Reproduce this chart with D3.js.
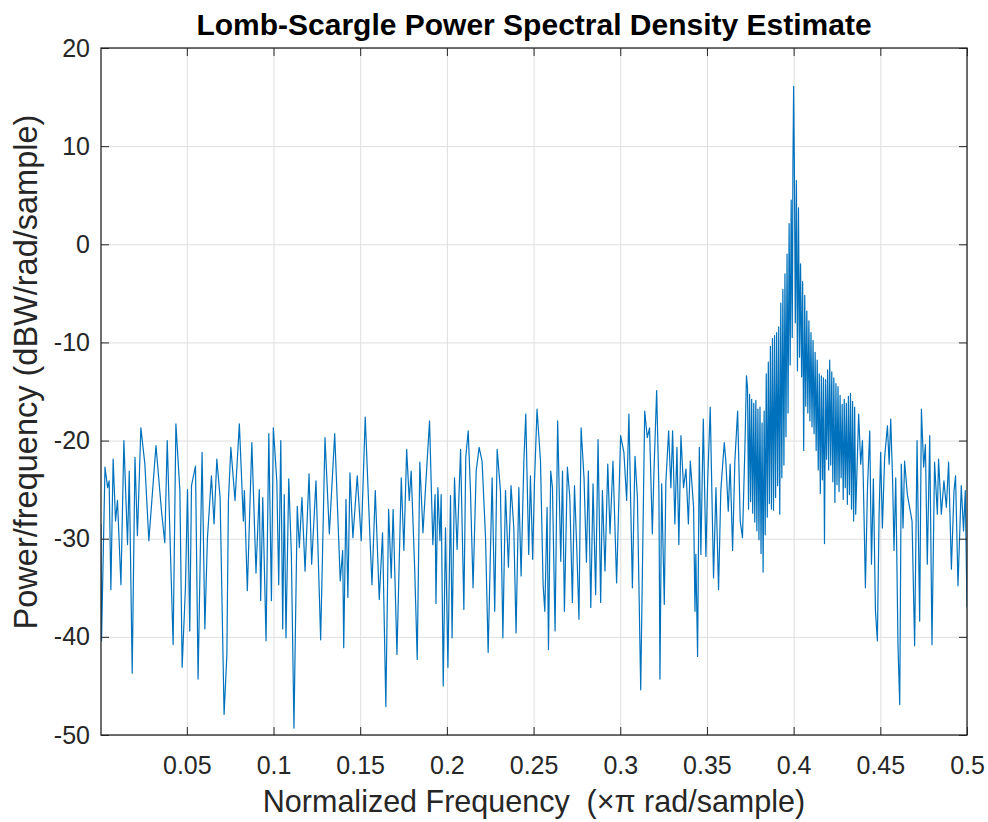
<!DOCTYPE html>
<html>
<head>
<meta charset="utf-8">
<script src="https://cdn.jsdelivr.net/npm/d3@7/dist/d3.min.js"></script>
<style>
  body { margin: 0; background: #fff; }
  text { font-family: "Liberation Sans", Arial, Helvetica, sans-serif; white-space: pre; }
</style>
</head>
<body>
<div id="chart"></div>
<script>
// [normalized frequency (x pi rad/sample), power/frequency dB]
const band1 = [[0.0005,-28.5],[0.0008,-40.4],[0.0028,-22.7],[0.0043,-24.8],[0.0052,-24.1],[0.0062,-35.2],[0.0075,-21.9],[0.0089,-28.2],[0.0100,-26.1],[0.0120,-34.7],[0.0137,-20.0],[0.0158,-30.6],[0.0168,-23.1],[0.0185,-43.7],[0.0201,-21.7],[0.0215,-29.7],[0.0235,-18.7],[0.0258,-22.4],[0.0281,-30.2],[0.0322,-20.5],[0.0354,-27.2],[0.0373,-30.4],[0.0387,-20.0],[0.0421,-40.8],[0.0437,-18.3],[0.0460,-25.1],[0.0473,-43.1],[0.0492,-35.0],[0.0504,-25.0],[0.0517,-39.4],[0.0527,-24.6],[0.0550,-22.6],[0.0565,-44.3],[0.0588,-21.2],[0.0604,-39.2],[0.0619,-29.9],[0.0642,-23.6]];
const band2 = [[0.0657,-28.5],[0.0673,-21.9],[0.0692,-25.8],[0.0715,-47.9],[0.0731,-41.8],[0.0740,-26.1],[0.0754,-20.7],[0.0778,-26.1],[0.0803,-18.3],[0.0826,-28.2],[0.0832,-25.1],[0.0849,-35.3],[0.0875,-20.2],[0.0899,-33.5],[0.0918,-25.0],[0.0926,-36.3],[0.0938,-25.8],[0.0957,-40.4],[0.0973,-19.3],[0.0988,-36.3],[0.0999,-18.7],[0.1019,-24.1],[0.1030,-34.7],[0.1042,-20.0],[0.1053,-39.2],[0.1062,-25.5],[0.1072,-40.1],[0.1088,-23.9],[0.1103,-31.6],[0.1118,-49.3],[0.1137,-26.7],[0.1149,-30.9],[0.1164,-25.8],[0.1182,-33.3],[0.1205,-23.4],[0.1220,-32.6],[0.1245,-24.1],[0.1272,-40.3]];
const band3 = [[0.1297,-19.7],[0.1322,-29.5],[0.1353,-19.3],[0.1385,-34.3],[0.1399,-31.2],[0.1405,-41.1],[0.1418,-26.0],[0.1429,-36.0],[0.1441,-23.3],[0.1458,-29.9],[0.1483,-23.6],[0.1506,-30.2],[0.1529,-17.6],[0.1558,-30.6],[0.1568,-34.7],[0.1587,-25.1],[0.1610,-36.2],[0.1629,-29.4],[0.1648,-47.1],[0.1664,-27.0],[0.1679,-34.0],[0.1690,-27.0],[0.1712,-41.8],[0.1737,-23.8],[0.1752,-31.2],[0.1768,-20.9],[0.1783,-26.1],[0.1794,-23.1],[0.1814,-32.9],[0.1829,-42.3],[0.1844,-22.2],[0.1862,-29.4],[0.1881,-23.6],[0.1900,-18.0],[0.1919,-30.6],[0.1932,-25.5]];
const band4 = [[0.1937,-36.6],[0.1948,-24.8],[0.1960,-30.2],[0.1967,-25.5],[0.1979,-45.0],[0.1992,-28.9],[0.2006,-43.1],[0.2021,-25.6],[0.2030,-40.1],[0.2044,-23.8],[0.2059,-31.1],[0.2079,-20.9],[0.2098,-37.2],[0.2109,-21.7],[0.2123,-19.0],[0.2136,-25.1],[0.2151,-35.0],[0.2169,-23.1],[0.2186,-20.7],[0.2203,-22.1],[0.2223,-29.9],[0.2238,-41.6],[0.2261,-23.8],[0.2276,-37.4],[0.2290,-20.9],[0.2309,-25.1],[0.2323,-40.1],[0.2338,-25.1],[0.2355,-32.9],[0.2370,-24.6],[0.2386,-28.9],[0.2399,-39.6],[0.2415,-24.8],[0.2428,-33.8],[0.2444,-22.1],[0.2455,-17.3],[0.2472,-31.6],[0.2482,-23.6],[0.2495,-32.1],[0.2505,-24.4],[0.2520,-16.8],[0.2540,-22.1],[0.2555,-34.7],[0.2565,-37.4],[0.2578,-26.8]];
const band5 = [[0.2586,-41.3],[0.2599,-23.1],[0.2609,-24.8],[0.2624,-39.4],[0.2639,-18.0],[0.2657,-32.3],[0.2667,-23.1],[0.2678,-37.4],[0.2695,-22.7],[0.2709,-25.8],[0.2724,-36.5],[0.2736,-24.6],[0.2749,-30.9],[0.2762,-38.2],[0.2774,-18.7],[0.2791,-23.8],[0.2805,-32.4],[0.2816,-23.1],[0.2830,-37.0],[0.2843,-24.4],[0.2858,-35.7],[0.2872,-19.9],[0.2887,-36.5],[0.2897,-25.1],[0.2912,-33.3],[0.2928,-22.4],[0.2941,-29.5],[0.2958,-22.1],[0.2979,-34.5],[0.3002,-19.5],[0.3021,-21.2],[0.3037,-26.1],[0.3050,-17.3],[0.3070,-35.0],[0.3085,-21.6],[0.3099,-25.8],[0.3118,-45.4],[0.3141,-17.0],[0.3156,-19.7],[0.3169,-18.7],[0.3185,-29.5],[0.3194,-23.4],[0.3210,-14.9],[0.3223,-25.1],[0.3229,-44.3]];
const band6 = [[0.3239,-24.4],[0.3254,-36.7],[0.3263,-24.3],[0.3279,-19.0],[0.3292,-24.8],[0.3302,-19.0],[0.3315,-28.5],[0.3327,-20.7],[0.3338,-30.6],[0.3350,-19.5],[0.3365,-24.8],[0.3379,-22.9],[0.3393,-28.5],[0.3404,-22.1],[0.3423,-26.8],[0.3431,-37.4],[0.3436,-31.6],[0.3446,-42.0],[0.3456,-20.7],[0.3465,-31.6],[0.3479,-17.8],[0.3494,-31.8],[0.3504,-24.3],[0.3519,-16.6],[0.3538,-34.0],[0.3552,-24.8],[0.3567,-35.2],[0.3580,-25.1],[0.3600,-20.2],[0.3609,-22.1],[0.3623,-27.2],[0.3634,-22.4],[0.3648,-31.2],[0.3661,-22.1],[0.3677,-17.0],[0.3692,-28.2],[0.3705,-29.9],[0.3719,-20.7],[0.3728,-13.4]];
const peakBand = [[0.3734,-14.6],[0.3740,-27.0],[0.3746,-15.3],[0.3752,-26.2],[0.3758,-15.8],[0.3764,-27.4],[0.3770,-16.2],[0.3776,-28.3],[0.3782,-15.9],[0.3788,-29.2],[0.3794,-16.8],[0.3800,-30.1],[0.3806,-16.6],[0.3812,-31.5],[0.3818,-18.2],[0.3824,-33.4],[0.3830,-17.0],[0.3836,-29.6],[0.3842,-13.2],[0.3848,-27.8],[0.3854,-12.0],[0.3860,-26.4],[0.3866,-10.4],[0.3872,-27.0],[0.3878,-9.6],[0.3884,-27.1],[0.3890,-9.3],[0.3896,-25.8],[0.3902,-9.0],[0.3908,-24.6],[0.3914,-8.4],[0.3920,-27.5],[0.3926,-6.0],[0.3932,-23.8],[0.3938,-4.6],[0.3944,-22.5],[0.3950,-3.0],[0.3956,-19.6],[0.3962,-1.0],[0.3968,-17.2],[0.3974,2.1],[0.3980,-12.3],[0.3986,4.5],[0.3992,-9.5],[0.3996,8.0],[0.4000,16.1],[0.4004,8.5],[0.4010,-8.0],[0.4016,6.5],[0.4022,-12.9],[0.4028,3.7],[0.4034,-11.5],[0.4040,-2.0],[0.4046,-13.5],[0.4052,-3.8],[0.4058,-21.0],[0.4064,-5.2],[0.4070,-16.5],[0.4076,-6.8],[0.4082,-17.2],[0.4088,-7.8],[0.4094,-18.0],[0.4100,-9.0],[0.4106,-18.6],[0.4112,-9.8],[0.4118,-19.3],[0.4124,-11.0],[0.4130,-21.0],[0.4136,-11.8],[0.4142,-23.0],[0.4148,-13.2],[0.4154,-25.4],[0.4160,-13.4],[0.4166,-24.0],[0.4172,-13.6],[0.4178,-30.5],[0.4184,-13.8],[0.4190,-21.9],[0.4196,-12.8],[0.4202,-23.0],[0.4208,-11.8],[0.4214,-22.5],[0.4220,-13.0],[0.4226,-24.2],[0.4232,-13.6],[0.4238,-26.3],[0.4244,-14.2],[0.4250,-24.5],[0.4256,-14.5],[0.4262,-25.2],[0.4268,-15.4],[0.4274,-23.8],[0.4280,-16.3],[0.4286,-26.0],[0.4292,-15.8],[0.4298,-24.8],[0.4304,-16.2],[0.4310,-26.5],[0.4316,-15.5],[0.4322,-25.5],[0.4328,-15.2],[0.4334,-27.0],[0.4340,-16.0],[0.4346,-28.2],[0.4352,-16.6],[0.4358,-27.5]];
const band7 = [[0.4375,-17.3],[0.4387,-22.4],[0.4397,-20.0],[0.4407,-28.5],[0.4414,-35.0],[0.4426,-24.8],[0.4439,-19.0],[0.4449,-32.6],[0.4460,-23.9],[0.4472,-37.4],[0.4483,-40.4],[0.4493,-27.5],[0.4502,-21.2],[0.4512,-28.9],[0.4525,-21.7],[0.4541,-18.5],[0.4551,-22.4],[0.4560,-17.8],[0.4571,-24.1],[0.4579,-31.2],[0.4589,-23.8],[0.4602,-40.9],[0.4612,-46.9],[0.4621,-22.4],[0.4631,-28.9],[0.4640,-22.1],[0.4656,-25.5],[0.4669,-26.8],[0.4683,-28.2],[0.4698,-40.9],[0.4712,-20.0],[0.4727,-38.4],[0.4737,-16.8],[0.4750,-22.7],[0.4760,-20.4],[0.4771,-32.6],[0.4785,-19.5],[0.4798,-40.8],[0.4813,-22.2],[0.4829,-27.5],[0.4836,-21.9],[0.4852,-27.5],[0.4867,-24.1],[0.4881,-26.8],[0.4894,-22.2],[0.4910,-33.1],[0.4925,-25.1],[0.4934,-23.6],[0.4948,-34.8],[0.4967,-24.6],[0.4980,-29.2],[0.4990,-25.1],[0.5000,-37.0]];

const xTicks = [0.05, 0.1, 0.15, 0.2, 0.25, 0.3, 0.35, 0.4, 0.45, 0.5];
const xTickLabels = ["0.05", "0.1", "0.15", "0.2", "0.25", "0.3", "0.35", "0.4", "0.45", "0.5"];
const yTicks = [-50, -40, -30, -20, -10, 0, 10, 20];
const yTickLabels = ["-50", "-40", "-30", "-20", "-10", "0", "10", "20"];

const psd = [].concat(band1, band2, band3, band4, band5, band6, peakBand, band7);

// figure layout
const width = 988, height = 822;
const margin = { top: 48, right: 21, bottom: 87, left: 101 };
const plotW = width - margin.left - margin.right;
const plotH = height - margin.top - margin.bottom;
const axisColor = "#262626";

const svg = d3.select("#chart")
  .append("svg")
  .attr("width", width)
  .attr("height", height)
  .style("display", "block");

const g = svg.append("g")
  .attr("transform", "translate(" + margin.left + "," + margin.top + ")");

const x = d3.scaleLinear().domain([0.0005, 0.5]).range([0, plotW]);
const y = d3.scaleLinear().domain([-50, 20]).range([plotH, 0]);

// grid lines
g.append("g")
  .attr("transform", "translate(0," + plotH + ")")
  .call(d3.axisBottom(x).tickValues(xTicks).tickSize(-plotH).tickFormat(""))
  .call(a => a.select(".domain").remove())
  .call(a => a.selectAll("line").attr("stroke", "#dfdfdf"));

g.append("g")
  .call(d3.axisLeft(y).tickValues(yTicks).tickSize(-plotW).tickFormat(""))
  .call(a => a.select(".domain").remove())
  .call(a => a.selectAll("line").attr("stroke", "#dfdfdf"));

// the spectrum
g.append("clipPath").attr("id", "plot-clip")
  .append("rect").attr("width", plotW).attr("height", plotH);

const line = d3.line()
  .x(d => x(d[0]))
  .y(d => y(d[1]));

g.append("path")
  .datum(psd)
  .attr("clip-path", "url(#plot-clip)")
  .attr("fill", "none")
  .attr("stroke", "#0072BD")
  .attr("stroke-width", 1.2)
  .attr("stroke-linejoin", "round")
  .attr("d", line);

// axes, ticks pointing inward (matlab style)
const styleAxis = a => {
  a.select(".domain").remove();
  a.selectAll("line").attr("stroke", axisColor);
  a.selectAll("text").attr("fill", axisColor).style("font-size", "25px");
};

g.append("g")
  .attr("transform", "translate(0," + plotH + ")")
  .call(d3.axisBottom(x).tickValues(xTicks).tickSize(-8).tickPadding(21)
    .tickFormat((d, i) => xTickLabels[i]))
  .call(styleAxis);

g.append("g")
  .call(d3.axisTop(x).tickValues(xTicks).tickSize(-8).tickFormat(""))
  .call(styleAxis);

g.append("g")
  .call(d3.axisLeft(y).tickValues(yTicks).tickSize(-8).tickPadding(11)
    .tickFormat((d, i) => yTickLabels[i]))
  .call(styleAxis);

g.append("g")
  .attr("transform", "translate(" + plotW + ",0)")
  .call(d3.axisRight(y).tickValues(yTicks).tickSize(-8).tickFormat(""))
  .call(styleAxis);

g.append("rect")
  .attr("width", plotW)
  .attr("height", plotH)
  .attr("fill", "none")
  .attr("stroke", axisColor)
  .attr("stroke-width", 1.3);

// labels
svg.append("text")
  .attr("x", margin.left + plotW / 2)
  .attr("y", 35)
  .attr("text-anchor", "middle")
  .attr("fill", "#000")
  .style("font-size", "30px")
  .style("font-weight", "bold")
  .text("Lomb-Scargle Power Spectral Density Estimate");

svg.append("text")
  .attr("x", margin.left + plotW / 2)
  .attr("y", 812)
  .attr("text-anchor", "middle")
  .attr("fill", axisColor)
  .style("font-size", "30.5px")
  .text("Normalized Frequency  (\u00d7\u03c0 rad/sample)");

svg.append("text")
  .attr("transform", "translate(37,372) rotate(-90)")
  .attr("text-anchor", "middle")
  .attr("fill", axisColor)
  .style("font-size", "32.5px")
  .text("Power/frequency (dBW/rad/sample)");
</script>
</body>
</html>
